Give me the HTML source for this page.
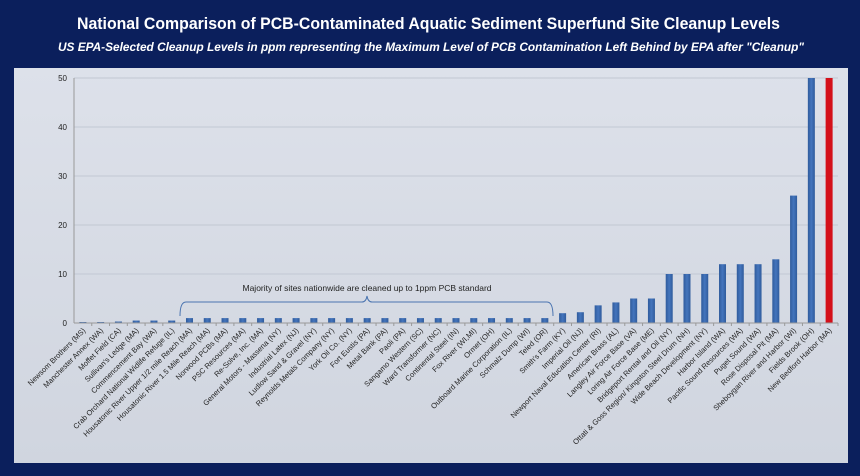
<!DOCTYPE html>
<html><head><meta charset="utf-8"><style>
html,body{margin:0;padding:0;background:#0b1f5c;width:860px;height:476px;overflow:hidden;font-family:"Liberation Sans",sans-serif}
</style></head><body>
<svg width="860" height="476" xmlns="http://www.w3.org/2000/svg">
<defs>
<linearGradient id="bg" x1="0" y1="0" x2="0" y2="1"><stop offset="0" stop-color="#dde1ea"/><stop offset="1" stop-color="#d0d5df"/></linearGradient>
<linearGradient id="bar" x1="0" y1="0" x2="1" y2="0"><stop offset="0" stop-color="#2f5b9c"/><stop offset="0.5" stop-color="#4475bd"/><stop offset="1" stop-color="#2f5b9c"/></linearGradient>
</defs>
<rect x="0" y="0" width="860" height="476" fill="#0b1f5c"/>
<text x="77" y="29" textLength="703" lengthAdjust="spacingAndGlyphs" fill="#fff" font-size="17" font-weight="bold">National Comparison of PCB-Contaminated Aquatic Sediment Superfund Site Cleanup Levels</text>
<text x="58" y="51" textLength="746" lengthAdjust="spacingAndGlyphs" fill="#fff" font-size="12" font-weight="bold" font-style="italic">US EPA-Selected Cleanup Levels in ppm representing the Maximum Level of PCB Contamination Left Behind by EPA after "Cleanup"</text>
<rect x="14" y="68" width="834" height="395" fill="url(#bg)"/>
<g id="grid"></g><g id="bars"></g><g id="axes"></g>
<g>
<path d="M180,316 Q180,302 186,302 L362,302 Q366,302 367,296 Q368,302 372,302 L547,302 Q553,302 553,316" fill="none" stroke="#4a74b0" stroke-width="1"/>
<text x="367" y="291" text-anchor="middle" font-size="8.5" fill="#222">Majority of sites nationwide are cleaned up to 1ppm PCB standard</text>
</g>
</svg>
<script>
const categories=["Newsom Brothers (MS)","Manchester Annex (WA)","Moffet Field (CA)","Sullivan's Ledge (MA)","Commencement Bay (WA)","Crab Orchard National Widlife Refuge (IL)","Housatonic River Upper 1/2 mile Reach (MA)","Housatonic River 1.5 Mile Reach (MA)","Norwood PCBs (MA)","PSC Resources (MA)","Re-Solve, Inc. (MA)","General Motors - Massena (NY)","Industrial Latex (NJ)","Ludlow Sand & Gravel (NY)","Reynolds Metals Company (NY)","York Oil Co. (NY)","Fort Eustis (PA)","Metal Bank (PA)","Paoli (PA)","Sangamo Western (SC)","Ward Transformer (NC)","Continental Steel (IN)","Fox River (WI,MI)","Ormet (OH)","Outboard Marine Corporation (IL)","Schmalz Dump (WI)","Teled (OR)","Smith's Farm (KY)","Imperial Oil (NJ)","Newport Naval Education Center (RI)","American Brass (AL)","Langley Air Force Base (VA)","Loring Air Force Base (ME)","Bridgeport Rental and Oil (NY)","Ottati & Goss Region/ Kingston Steel Drum (NH)","Wide Beach Development (NY)","Harbor Island (WA)","Pacific Sound Resources (WA)","Puget Sound (WA)","Rose Disposal Pit (MA)","Sheboygan River and Harbor (WI)","Fields Brook (OH)","New Bedford Harbor (MA)"];
const values=[0.05,0.1,0.3,0.5,0.5,0.5,1,1,1,1,1,1,1,1,1,1,1,1,1,1,1,1,1,1,1,1,1,2,2.2,3.6,4.2,5,5,10,10,10,12,12,12,13,26,50,50];
const yTicks=[0,10,20,30,40,50];
const NS="http://www.w3.org/2000/svg";
const x0=74,x1=838,y0=323,y1=78,yMax=50;
const bw=(x1-x0)/categories.length;
const X=i=>x0+bw*(i+0.5);
const Y=v=>y0-(v/yMax)*(y0-y1);
function mk(t,a,p){const e=document.createElementNS(NS,t);for(const k in a)e.setAttribute(k,a[k]);p.appendChild(e);return e;}
const grid=document.getElementById('grid'),bars=document.getElementById('bars'),axes=document.getElementById('axes');
yTicks.forEach(t=>{
 const l=mk('line',{x1:x0,x2:x1,y1:Y(t),y2:Y(t),stroke:'#c2c8d3','stroke-width':1},grid);
 
 
 const tx=mk('text',{x:x0-7,y:Y(t)+3,'text-anchor':'end','font-size':8,fill:'#222'},axes);
 tx.textContent=t;
 
 
});
mk('line',{x1:x0,x2:x0,y1:y1,y2:y0,stroke:'#999'},axes);
mk('line',{x1:x0,x2:x1,y1:y0,y2:y0,stroke:'#999'},axes);
values.forEach((v,i)=>{
 const w=7,h=Math.max(y0-Y(v),1);
 const r=mk('rect',{x:X(i)-w/2,y:y0-h,width:w,height:h,fill:i===values.length-1?'#d4101a':'url(#bar)'},bars);
 
 
 mk('line',{x1:x0+bw*(i+1),x2:x0+bw*(i+1),y1:y0,y2:y0+3,stroke:'#999'},axes);
 const t=mk('text',{x:X(i)+3,y:y0+8,'text-anchor':'end','font-size':7.5,fill:'#222',transform:`rotate(-45 ${X(i)+3} ${y0+8})`},axes);
 t.textContent=categories[i];
 
 
});
</script>
</body></html>
